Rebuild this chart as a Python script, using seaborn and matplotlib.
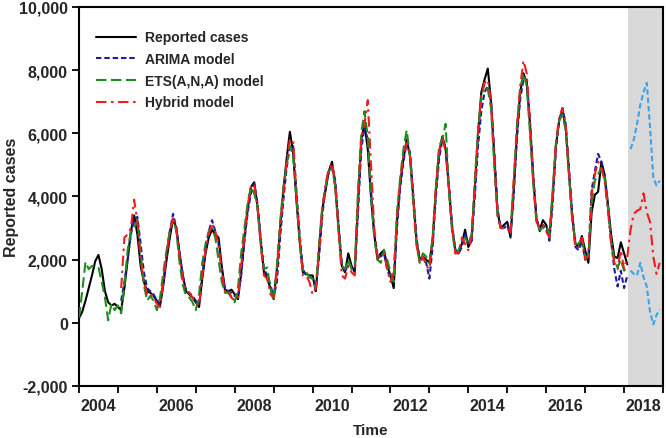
import numpy as np
import pandas as pd
import matplotlib
matplotlib.use("Agg")
import matplotlib.pyplot as plt
from matplotlib.ticker import FuncFormatter
import seaborn as sns

# Data: monthly values, Jan 2004 onward
start_year = 2004

reported = [
    150, 350, 700, 1100, 1500, 1950, 2150, 1700, 1000, 650, 550, 600,
    500, 400, 1100, 2000, 2900, 3400, 2800, 1800, 1300, 1000, 950, 850,
    700, 550, 1200, 2000, 2700, 3300, 3000, 2200, 1500, 1000, 900, 800,
    650, 500, 1400, 2200, 2700, 2950, 2800, 2700, 1800, 1050, 1000, 1050,
    900, 750, 1600, 2700, 3600, 4300, 4450, 3700, 2600, 1600, 1400, 1100,
    750, 1700, 3000, 4200, 5200, 6050, 5400, 3900, 2600, 1600, 1550, 1500,
    1500, 1000, 2300, 3600, 4200, 4800, 5100, 4300, 3000, 1800, 1600, 2200,
    1800, 1600, 3800, 5800, 6300, 5500, 4000, 2800, 2000, 2200, 2300, 1800,
    1500, 1100, 3200, 4400, 5200, 5800, 5300, 4000, 2600, 2000, 2100, 2000,
    1900, 2600, 4200, 5400, 5900, 5500, 4300, 3000, 2300, 2200, 2500, 2950,
    2400, 2600, 4300, 6000, 7300, 7700, 8050, 7000, 5300, 3500, 3000, 3100,
    3200, 2700, 4200, 6000, 7300, 7900, 7600, 6300, 4600, 3300, 2950, 3250,
    3100, 2700, 4000, 5600, 6400, 6700, 6200, 4800, 3400, 2500, 2400, 2750,
    2300, 1900, 3500, 4050, 4150, 5100, 4700, 3800, 2800, 2100, 2050, 2550,
    2200, 1850,
]

# ETS(A,N,A) fitted, Jan 2004 onward
ets = [
    170, 1000, 1930, 1700, 1800, 1800, 1750, 1300, 800, 80, 600, 400,
    550, 300, 1200, 2300, 2900, 3000, 3250, 2200, 1200, 700, 850, 700,
    400, 800, 1600, 2300, 2900, 3300, 2900, 1900, 1200, 850, 800, 650,
    400, 900, 1900, 2500, 2900, 3000, 2700, 2000, 1300, 950, 950, 800,
    650, 1100, 2200, 3000, 3800, 4300, 4100, 3700, 2500, 1700, 1750, 1100,
    700, 1800, 3200, 4300, 5000, 5600, 5300, 4000, 2600, 1600, 1600, 1450,
    1400, 1100, 2500, 3700, 4300, 4800, 4900, 4300, 2900, 1800, 1700, 2000,
    1700, 1800, 4200, 6000, 6700, 5900, 4000, 2700, 2000, 1900, 2300, 2000,
    1600, 1300, 3500, 4600, 5500, 6100, 5300, 3800, 2500, 1900, 2200, 2100,
    1900, 2700, 4300, 5600, 5800, 6300, 4200, 2900, 2200, 2300, 2600, 2700,
    2500, 2800, 4500, 6100, 7100, 7600, 7400, 6800, 5000, 3400, 3000, 3000,
    3000, 2900, 4500, 6300, 7400, 7900, 7500, 6000, 4400, 3200, 2950, 3000,
    3100, 2800, 4200, 5700, 6400, 6600, 6100, 4700, 3300, 2500, 2500, 2700,
    2100, 2100, 3800, 4500, 4700, 4900, 4600, 3700, 2600, 2000, 1750, 2000,
    1650, 1750,
]

# ARIMA fitted, Feb 2005 onward
arima_start = 13
arima = [
    700, 1300, 2000, 2800, 3300, 3350, 2500, 1600, 1100, 1000, 900,
    700, 600, 1300, 2200, 2900, 3450, 3000, 2200, 1500, 1000, 950, 850,
    700, 600, 1500, 2300, 2900, 3250, 2900, 2500, 1700, 1050, 1000, 950,
    850, 800, 1500, 2600, 3500, 4100, 4400, 3800, 2700, 1700, 1500, 1200,
    800, 1300, 2700, 3900, 4900, 5600, 5600, 4200, 2800, 1700, 1500, 1450,
    1400, 1100, 2100, 3400, 4300, 4800, 5000, 4500, 3100, 1900, 1600, 1900,
    1800, 1700, 3500, 5500, 6200, 5800, 4200, 2900, 2100, 2100, 2200, 1700,
    1400, 1300, 3000, 4300, 5100, 5700, 5400, 4100, 2700, 2000, 2000, 1900,
    1400, 2400, 4000, 5200, 5800, 5600, 4400, 3100, 2300, 2200, 2400, 2800,
    2500, 2600, 4000, 5600, 6700, 7300, 7500, 7000, 5400, 3600, 3000, 3000,
    3100, 2800, 4100, 5900, 7100, 7700, 7700, 6400, 4700, 3300, 2900, 3100,
    3000, 2600, 3800, 5500, 6400, 6800, 6300, 4900, 3500, 2400, 2300, 2600,
    2000, 2100, 4200, 4800, 5350, 5100, 4600, 3700, 2600, 1700, 1150, 1650,
    1100, 1500,
]

# Hybrid fitted + forecast, Feb 2005 to Dec 2018
hybrid_start = 13
hybrid = [
    1100, 2700, 2800, 3000, 3900, 3200, 2000, 1300, 900, 950, 800,
    600, 500, 1300, 2200, 2900, 3350, 3000, 2100, 1400, 1000, 950, 800,
    650, 550, 1500, 2300, 2800, 3150, 2900, 2500, 1600, 1000, 1050, 800,
    700, 800, 1800, 2800, 3700, 4300, 4400, 3700, 2500, 1500, 1400, 900,
    800, 1600, 3000, 4100, 5100, 5800, 5800, 4100, 2700, 1500, 1500, 1300,
    900, 1100, 2300, 3600, 4400, 4900, 5050, 4400, 2900, 1500, 1400, 1800,
    1600, 1500, 3900, 5800, 6300, 7050, 5000, 3000, 2100, 2100, 2200, 1700,
    1300, 1600, 3300, 4500, 5300, 5700, 5300, 4000, 2500, 1900, 2100, 1800,
    1700, 2700, 4300, 5400, 5900, 5400, 4300, 3000, 2200, 2200, 2700, 2500,
    2300, 2700, 4300, 6000, 7200, 7600, 7700, 7000, 5200, 3400, 3000, 3000,
    3000, 2800, 4500, 6200, 7500, 8300, 7900, 6300, 4600, 3200, 3000, 3100,
    2900, 2700, 4000, 5700, 6500, 6800, 6300, 4800, 3300, 2400, 2400, 2700,
    2000, 2100, 4100, 4700, 5100, 4900, 4500, 3600, 2500, 1900, 1700, 2300,
    1700, 2100,
    2950, 3450, 3550, 3600, 4100, 3500, 3200, 2100, 1550, 1900,
]

# Forecast bounds, Mar 2018 to Dec 2018
bound_start = 170
upper_bound = [5500, 5800, 6300, 6900, 7300, 7600, 6200, 4600, 4350, 4500]
lower_bound = [1650, 1550, 1500, 1900, 1450, 1150, 350, -50, 250, 420]

forecast_shade = (2018.1, 2019.0)


def months(first, n):
    return start_year + (first + np.arange(n)) / 12.0


df_rep = pd.DataFrame({"t": months(0, len(reported)), "v": reported})
df_ets = pd.DataFrame({"t": months(0, len(ets)), "v": ets})
df_ari = pd.DataFrame({"t": months(arima_start, len(arima)), "v": arima})
df_hyb = pd.DataFrame({"t": months(hybrid_start, len(hybrid)), "v": hybrid})
df_up = pd.DataFrame({"t": months(bound_start, len(upper_bound)), "v": upper_bound})
df_lo = pd.DataFrame({"t": months(bound_start, len(lower_bound)), "v": lower_bound})

sns.set_style("white")
plt.rcParams["font.family"] = ["Liberation Sans", "DejaVu Sans"]
plt.rcParams["font.weight"] = "bold"

fig = plt.figure(figsize=(6.66, 4.39), dpi=100)
ax = fig.add_axes([0.1186, 0.1185, 0.8769, 0.8633])

ax.axvspan(*forecast_shade, color="#d9d9d9", zorder=0, lw=0)

lw = 1.5
sns.lineplot(data=df_rep, x="t", y="v", ax=ax, color="black", lw=lw,
             label="Reported cases", zorder=3)
sns.lineplot(data=df_ari, x="t", y="v", ax=ax, color="#1c1c99", lw=lw,
             linestyle=(0, (2.6, 1.4)), label="ARIMA model", zorder=4)
sns.lineplot(data=df_ets, x="t", y="v", ax=ax, color="#1e8c1e", lw=lw,
             linestyle=(0, (5, 2.2)), label="ETS(A,N,A) model", zorder=5)
sns.lineplot(data=df_hyb, x="t", y="v", ax=ax, color="#ee1c1c", lw=lw,
             linestyle=(0, (5, 2.2, 1.2, 2.2)), label="Hybrid model", zorder=6)
sns.lineplot(data=df_up, x="t", y="v", ax=ax, color="#3aa3ea", lw=lw,
             linestyle=(0, (2.6, 1.4)), zorder=4)
sns.lineplot(data=df_lo, x="t", y="v", ax=ax, color="#3aa3ea", lw=lw,
             linestyle=(0, (2.6, 1.4)), zorder=4)

ax.set_xlim(2004, 2019)
ax.set_ylim(-2000, 10000)

ax.set_xticks(np.arange(2004, 2020))
ax.set_xticklabels([])
ax.set_xticks(np.arange(2004, 2019, 2) + 0.5, minor=True)
ax.set_xticklabels([str(y) for y in range(2004, 2019, 2)], minor=True)
ax.tick_params(axis="x", which="major", direction="out", length=5, width=1.3,
               color="black", bottom=True)
ax.tick_params(axis="x", which="minor", length=0, pad=9, labelsize=11.5)

ax.set_yticks(np.arange(-2000, 10001, 2000))
ax.yaxis.set_major_formatter(FuncFormatter(lambda v, p: f"{int(v):,}"))
ax.tick_params(axis="y", direction="out", length=5, width=1.3,
               color="black", left=True, labelsize=11.5, pad=3)

for s in ax.spines.values():
    s.set_color("black")
    s.set_linewidth(1.5)

ax.set_xlabel("Time", fontsize=11, fontweight="bold")
ax.set_ylabel("Reported cases", fontsize=11.5, fontweight="bold")
ax.xaxis.set_label_coords(0.5, -0.098)
ax.yaxis.set_label_coords(-0.1027, 0.5)

leg = ax.legend(loc="upper left", frameon=False, fontsize=10,
                handlelength=2.9, handletextpad=0.6, labelspacing=0.55,
                bbox_to_anchor=(0.015, 0.96), borderaxespad=0.2)
for txt in leg.get_texts():
    txt.set_fontweight("bold")

fig.savefig("out.png", dpi=100)
